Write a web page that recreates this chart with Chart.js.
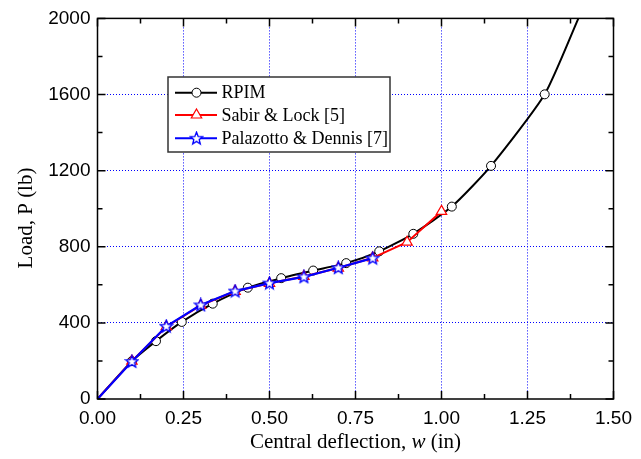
<!DOCTYPE html>
<html>
<head>
<meta charset="utf-8">
<script src="https://cdn.jsdelivr.net/npm/chart.js@4.4.0/dist/chart.umd.min.js"></script>
<style>
  html, body { margin: 0; padding: 0; background: #fff; }
  canvas { display: block; }
</style>
</head>
<body>
<canvas id="loadChart" width="641" height="459"></canvas>
<script>
// central deflection w (in) vs load P (lb)
let rpimX = [0, 0.10, 0.17, 0.245, 0.335, 0.437, 0.534, 0.627, 0.723, 0.819, 0.918, 1.03, 1.144, 1.30, 1.398];
let rpimY = [0, 199, 304, 405, 501, 585, 635, 675, 714, 776, 868, 1011, 1225, 1601, 2000];

let sabirX = [0, 0.10, 0.20, 0.30, 0.40, 0.50, 0.60, 0.70, 0.80, 0.90, 1.00];
let sabirY = [0, 199, 380, 492, 566, 608, 644, 688, 742, 824, 986];

let palazX = [0, 0.10, 0.20, 0.30, 0.40, 0.50, 0.60, 0.70, 0.80];
let palazY = [0, 197, 382, 494, 567, 609, 642, 690, 740];

let xTicks = [0, 0.25, 0.5, 0.75, 1.0, 1.25, 1.5];
let yTicks = [0, 400, 800, 1200, 1600, 2000];

let labels = ['RPIM', 'Sabir & Lock [5]', 'Palazotto & Dennis [7]'];

function toPoints(xs, ys) {
    return xs.map((x, i) => ({ x: x, y: ys[i] }));
}

// five pointed star marker, Chart.js 'star' is an asterisk
function makeStar(color) {
    let c = document.createElement('canvas');
    c.width = 15; c.height = 15;
    let g = c.getContext('2d');
    g.beginPath();
    for (let i = 0; i < 10; i++) {
        let r = i % 2 == 0 ? 6.5 : 2.8;
        let a = -Math.PI / 2 + i * Math.PI / 5;
        let px = 7.5 + r * Math.cos(a), py = 7.8 + r * Math.sin(a);
        if (i == 0) g.moveTo(px, py); else g.lineTo(px, py);
    }
    g.closePath();
    g.fillStyle = '#fff';
    g.fill();
    g.strokeStyle = color;
    g.lineWidth = 1.3;
    g.stroke();
    return c;
}
let star = makeStar('#0000ff');

let serif = '"Liberation Serif", "Times New Roman", serif';
let sans = '"Liberation Sans", Arial, Helvetica, sans-serif';

let framePlugin = {
    id: 'frame',
    afterDraw(chart) {
        let ctx = chart.ctx, a = chart.chartArea;
        let xs = chart.scales.x, ys = chart.scales.y;
        ctx.save();
        ctx.strokeStyle = '#000';
        ctx.lineWidth = 1.5;
        ctx.strokeRect(a.left, a.top, a.right - a.left, a.bottom - a.top);

        // inward ticks on all four sides
        ctx.beginPath();
        for (let i = 0; i <= 12; i++) {
            let px = xs.getPixelForValue(i * 0.125);
            let len = i % 2 == 0 ? 8 : 5;
            ctx.moveTo(px, a.bottom); ctx.lineTo(px, a.bottom - len);
            ctx.moveTo(px, a.top); ctx.lineTo(px, a.top + len);
        }
        for (let i = 0; i <= 10; i++) {
            let py = ys.getPixelForValue(i * 200);
            let len = i % 2 == 0 ? 8 : 5;
            ctx.moveTo(a.left, py); ctx.lineTo(a.left + len, py);
            ctx.moveTo(a.right, py); ctx.lineTo(a.right - len, py);
        }
        ctx.stroke();

        // axis titles
        ctx.fillStyle = '#000';
        ctx.textBaseline = 'middle';
        ctx.font = '21px ' + serif;
        let p1 = 'Central deflection, ', p3 = ' (in)';
        let w1 = ctx.measureText(p1).width, w3 = ctx.measureText(p3).width;
        ctx.font = 'italic 21px ' + serif;
        let w2 = ctx.measureText('w').width;
        let x0 = (a.left + a.right) / 2 - (w1 + w2 + w3) / 2;
        let ty = 442;
        ctx.textAlign = 'left';
        ctx.font = '21px ' + serif;
        ctx.fillText(p1, x0, ty);
        ctx.font = 'italic 21px ' + serif;
        ctx.fillText('w', x0 + w1, ty);
        ctx.font = '21px ' + serif;
        ctx.fillText(p3, x0 + w1 + w2, ty);

        ctx.save();
        ctx.translate(26, 218);
        ctx.rotate(-Math.PI / 2);
        ctx.textAlign = 'center';
        ctx.fillText('Load, P (lb)', 0, 0);
        ctx.restore();

        // legend box
        let lx = 168, lyTop = 77, lw = 222, lh = 75;
        ctx.fillStyle = '#fff';
        ctx.fillRect(lx, lyTop, lw, lh);
        ctx.strokeStyle = '#333';
        ctx.lineWidth = 1.5;
        ctx.strokeRect(lx, lyTop, lw, lh);
        let rows = [92.7, 115, 138.3];
        chart.data.datasets.forEach((ds, i) => {
            let y = rows[i];
            ctx.strokeStyle = ds.borderColor;
            ctx.lineWidth = 2;
            ctx.beginPath();
            ctx.moveTo(175, y); ctx.lineTo(217, y);
            ctx.stroke();
            if (ds.pointStyle === 'circle') {
                ctx.beginPath();
                ctx.arc(196.5, y, 4.5, 0, Math.PI * 2);
                ctx.fillStyle = '#fff'; ctx.fill();
                ctx.lineWidth = 1; ctx.strokeStyle = '#000'; ctx.stroke();
            } else if (ds.pointStyle === 'triangle') {
                let r = 6;
                ctx.beginPath();
                ctx.moveTo(196.5, y - r);
                ctx.lineTo(196.5 + r * 0.866, y + r * 0.5);
                ctx.lineTo(196.5 - r * 0.866, y + r * 0.5);
                ctx.closePath();
                ctx.fillStyle = '#fff'; ctx.fill();
                ctx.lineWidth = 1.2; ctx.strokeStyle = '#ff0000'; ctx.stroke();
            } else {
                ctx.drawImage(star, 196.5 - 7.5, y - 7.5);
            }
            ctx.fillStyle = '#000';
            ctx.font = '18px ' + serif;
            ctx.textAlign = 'left';
            ctx.fillText(ds.label, 221.5, y + 1);
        });
        ctx.restore();
    }
};

let chartCanvas = document.getElementById('loadChart');
let loadChart = new Chart(chartCanvas, {
    type: 'scatter',
    data: {
        datasets: [{
            label: labels[0],
            data: toPoints(rpimX, rpimY),
            showLine: true,
            borderColor: '#000',
            borderWidth: 2,
            tension: 0.2,
            pointStyle: 'circle',
            pointRadius: rpimX.map((x, i) => (i == 0 || i == rpimX.length - 1) ? 0 : 4.5),
            pointBorderWidth: 1,
            pointBorderColor: '#000',
            pointBackgroundColor: '#fff',
            order: 2
        }, {
            label: labels[1],
            data: toPoints(sabirX, sabirY),
            showLine: true,
            borderColor: '#ff0000',
            borderWidth: 2,
            pointStyle: 'triangle',
            pointRadius: sabirX.map((x, i) => i == 0 ? 0 : 6),
            pointBorderWidth: 1.2,
            pointBorderColor: '#ff0000',
            pointBackgroundColor: '#fff',
            order: 1
        }, {
            label: labels[2],
            data: toPoints(palazX, palazY),
            showLine: true,
            borderColor: '#0000ff',
            borderWidth: 2.2,
            pointStyle: palazX.map((x, i) => i == 0 ? false : star),
            pointRadius: 6,
            order: 0
        }]
    },
    options: {
        responsive: false,
        animation: false,
        events: [],
        layout: { padding: { top: 17, right: 27.5, left: 0, bottom: 0 } },
        plugins: {
            legend: { display: false },
            tooltip: { enabled: false }
        },
        scales: {
            x: {
                type: 'linear',
                min: 0,
                max: 1.5,
                afterBuildTicks: s => { s.ticks = xTicks.map(v => ({ value: v })); },
                afterFit: s => { s.height = 60; },
                grid: {
                    color: c => (c.tick && (c.tick.value == 0 || c.tick.value == 1.5)) ? 'rgba(0,0,0,0)' : '#0000ff',
                    lineWidth: 1,
                    drawTicks: false
                },
                border: { display: false, dash: [1, 2] },
                ticks: {
                    padding: 8,
                    color: '#000',
                    font: { family: sans, size: 19 },
                    callback: v => v.toFixed(2)
                }
            },
            y: {
                type: 'linear',
                min: 0,
                max: 2000,
                afterBuildTicks: s => { s.ticks = yTicks.map(v => ({ value: v })); },
                afterFit: s => { s.width = 97.5; },
                grid: {
                    color: c => (c.tick && (c.tick.value == 0 || c.tick.value == 2000)) ? 'rgba(0,0,0,0)' : '#0000ff',
                    lineWidth: 1,
                    drawTicks: false
                },
                border: { display: false, dash: [1, 2] },
                ticks: {
                    padding: 7,
                    color: '#000',
                    font: { family: sans, size: 19 },
                    callback: v => String(v)
                }
            }
        }
    },
    plugins: [framePlugin]
});
</script>
</body>
</html>
